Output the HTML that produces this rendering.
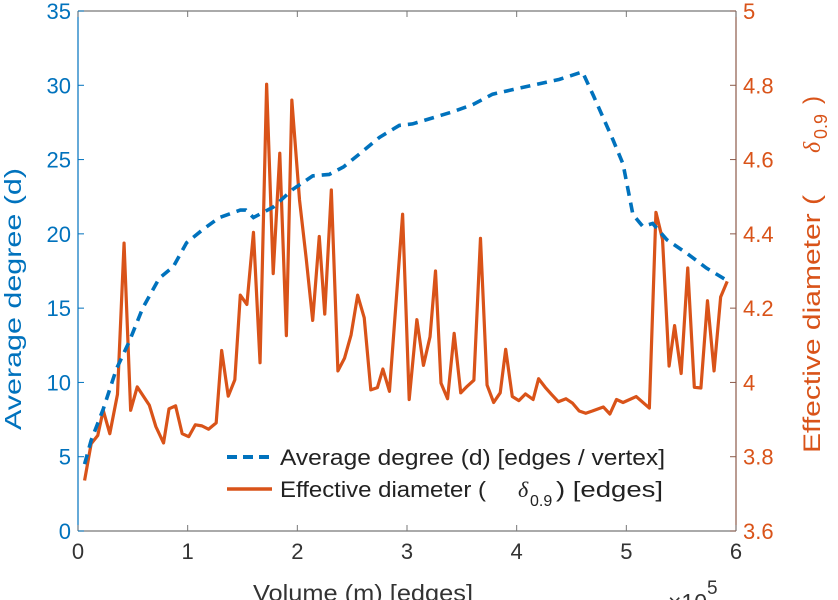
<!DOCTYPE html>
<html><head><meta charset="utf-8"><style>
body{margin:0;background:#fff;}
svg{display:block;font-family:"Liberation Sans",sans-serif;}
</style></head><body>
<svg id="chart" width="838" height="600" viewBox="0 0 838 600" xmlns="http://www.w3.org/2000/svg">
<g id="axes"></g>
<g id="series"></g>
<text transform="translate(21,299) rotate(-90)" text-anchor="middle" font-size="23" fill="#0072BD" textLength="262" lengthAdjust="spacingAndGlyphs">Average degree (d)</text>
<g fill="#D95319">
<text transform="translate(820,453) rotate(-90)" font-size="24" textLength="258" lengthAdjust="spacingAndGlyphs">Effective diameter (</text>
<text transform="translate(820,153) rotate(-90)" font-size="24" font-family="Liberation Serif" font-style="italic">δ</text>
<text transform="translate(827,139) rotate(-90)" font-size="18">0.9</text>
<text transform="translate(820,104) rotate(-90)" font-size="24">)</text>
</g>
<text x="253" y="601" font-size="23" fill="#333" textLength="220" lengthAdjust="spacingAndGlyphs">Volume (m) [edges]</text>
<text x="668" y="610" font-size="23" fill="#333">×10<tspan font-size="19" dy="-16">5</tspan></text>
<g>
<line x1="227" y1="457" x2="270" y2="457" stroke="#0072BD" stroke-width="4" stroke-dasharray="10,6"/>
<text x="280" y="465" font-size="22" fill="#222" textLength="385" lengthAdjust="spacingAndGlyphs">Average degree (d) [edges / vertex]</text>
<line x1="227" y1="489" x2="272" y2="489" stroke="#D95319" stroke-width="3.5"/>
<text x="280" y="497" font-size="22" fill="#222" textLength="206" lengthAdjust="spacingAndGlyphs">Effective diameter (</text>
<text x="518" y="497" font-size="22" fill="#222" font-family="Liberation Serif" font-style="italic">δ</text>
<text x="530" y="506" font-size="16" fill="#222">0.9</text>
<text x="556" y="497" font-size="22" fill="#222" textLength="107" lengthAdjust="spacingAndGlyphs">) [edges]</text>
</g>
</svg>
<script>
const xTicks=[0,1,2,3,4,5,6];
const yLeftTicks=[0,5,10,15,20,25,30,35];
const yRightTicks=[3.6,3.8,4,4.2,4.4,4.6,4.8,5];
const yRightLabels=["3.6","3.8","4","4.2","4.4","4.6","4.8","5"];
const degX=[0.06,0.12,0.23,0.35,0.47,0.59,0.74,0.87,0.99,1.14,1.29,1.48,1.53,1.60,1.78,1.96,2.14,2.29,2.42,2.57,2.75,2.93,3.05,3.23,3.41,3.60,3.78,4.02,4.39,4.60,4.70,4.88,4.97,5.06,5.15,5.24,5.37,5.55,5.73,5.91];
const degY=[4.5,6.1,8.2,10.9,12.8,15.0,17.0,17.8,19.4,20.3,21.1,21.6,21.6,21.1,21.8,23.0,23.9,24.0,24.5,25.4,26.5,27.3,27.4,27.8,28.2,28.7,29.4,29.8,30.4,30.9,29.3,26.3,24.7,21.3,20.5,20.7,19.6,18.7,17.7,16.9];
const diaX=[0.06,0.12,0.18,0.23,0.29,0.36,0.42,0.48,0.54,0.65,0.71,0.78,0.83,0.89,0.95,1.01,1.07,1.13,1.19,1.26,1.31,1.37,1.43,1.48,1.54,1.60,1.66,1.72,1.78,1.84,1.90,1.95,2.02,2.08,2.14,2.20,2.25,2.31,2.37,2.43,2.49,2.55,2.61,2.67,2.73,2.78,2.84,2.96,3.02,3.09,3.15,3.21,3.26,3.31,3.37,3.43,3.49,3.55,3.61,3.67,3.73,3.79,3.85,3.90,3.96,4.02,4.08,4.15,4.20,4.26,4.32,4.38,4.45,4.51,4.57,4.63,4.69,4.79,4.85,4.91,4.97,5.09,5.21,5.27,5.33,5.39,5.44,5.50,5.56,5.62,5.68,5.74,5.80,5.86,5.92];
const diaY=[3.736,3.835,3.857,3.925,3.862,3.968,4.375,3.925,3.988,3.939,3.881,3.837,3.929,3.937,3.862,3.854,3.886,3.883,3.874,3.891,4.086,3.963,4.007,4.235,4.21,4.404,4.053,4.803,4.293,4.617,4.126,4.760,4.491,4.336,4.167,4.393,4.184,4.518,4.031,4.065,4.128,4.235,4.174,3.980,3.986,4.036,3.976,4.453,3.954,4.169,4.046,4.123,4.300,3.998,3.956,4.132,3.972,3.99,4.006,4.388,3.993,3.946,3.972,4.089,3.962,3.951,3.969,3.954,4.010,3.987,3.967,3.948,3.956,3.944,3.923,3.917,3.923,3.934,3.915,3.954,3.946,3.962,3.931,4.458,4.385,4.044,4.153,4.024,4.308,3.987,3.985,4.220,4.031,4.230,4.272];
const L=78,R=736,T=11,B=531;
const sx=v=>L+(v-0)/(6-0)*(R-L);
const syL=v=>B-v/35*(B-T);
const syR=v=>B-(v-3.6)/1.4*(B-T);
const NS="http://www.w3.org/2000/svg";
function mk(tag,attrs,parent){const e=document.createElementNS(NS,tag);for(const k in attrs)e.setAttribute(k,attrs[k]);parent.appendChild(e);return e;}
const ax=document.getElementById('axes'), se=document.getElementById('series');
let f=mk('line',{x1:L,y1:T,x2:R,y2:T,stroke:'#777','stroke-width':1.2},ax);


f=mk('line',{x1:L,y1:B,x2:R,y2:B,stroke:'#777','stroke-width':1.2},ax);


f=mk('line',{x1:L,y1:T,x2:L,y2:B,stroke:'#0072BD','stroke-width':1.2},ax);


f=mk('line',{x1:R,y1:T,x2:R,y2:B,stroke:'#8c5a4a','stroke-width':1.2},ax);


xTicks.forEach(t=>{const x=sx(t);
mk('line',{x1:x,y1:B,x2:x,y2:B-6,stroke:'#777'},ax);
mk('line',{x1:x,y1:T,x2:x,y2:T+6,stroke:'#777'},ax);
const tx=mk('text',{x:x,y:B+28,'text-anchor':'middle','font-size':22,fill:'#333'},ax);tx.textContent=t;

});
yLeftTicks.forEach(t=>{const y=syL(t);
mk('line',{x1:L,y1:y,x2:L+6,y2:y,stroke:'#0072BD'},ax);
const tx=mk('text',{x:L-7,y:y+8,'text-anchor':'end','font-size':22,fill:'#0072BD'},ax);tx.textContent=t;

});
yRightTicks.forEach((t,i)=>{const y=syR(t);
mk('line',{x1:R,y1:y,x2:R-6,y2:y,stroke:'#8c5a4a'},ax);
const tx=mk('text',{x:R+7,y:y+8,'font-size':22,fill:'#D95319'},ax);tx.textContent=yRightLabels[i];

});
const dp=mk('polyline',{points:diaX.map((x,i)=>sx(x)+','+syR(diaY[i])).join(' '),fill:'none',stroke:'#D95319','stroke-width':3.2,'stroke-linejoin':'round'},se);


const bp=mk('polyline',{points:degX.map((x,i)=>sx(x)+','+syL(degY[i])).join(' '),fill:'none',stroke:'#0072BD','stroke-width':3.6,'stroke-dasharray':'10,7'},se);


</script>
</body></html>
